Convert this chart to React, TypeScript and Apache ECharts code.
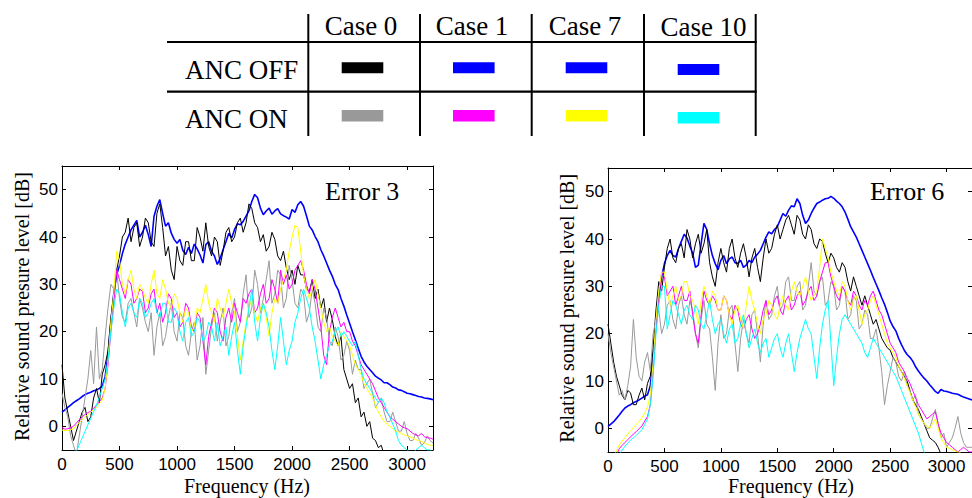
import React, { useEffect, useRef } from "react";
import * as echarts from "echarts";

const FREQ = [
  0, 25, 50, 75, 100, 125, 150, 175, 200, 225,
  250, 275, 300, 325, 350, 375, 400, 425, 450, 475,
  500, 525, 550, 575, 600, 625, 650, 675, 700, 725,
  750, 775, 800, 825, 850, 875, 900, 925, 950, 975,
  1000, 1025, 1050, 1075, 1100, 1125, 1150, 1175, 1200, 1225,
  1250, 1275, 1300, 1325, 1350, 1375, 1400, 1425, 1450, 1475,
  1500, 1525, 1550, 1575, 1600, 1625, 1650, 1675, 1700, 1725,
  1750, 1775, 1800, 1825, 1850, 1875, 1900, 1925, 1950, 1975,
  2000, 2025, 2050, 2075, 2100, 2125, 2150, 2175, 2200, 2225,
  2250, 2275, 2300, 2325, 2350, 2375, 2400, 2425, 2450, 2475,
  2500, 2525, 2550, 2575, 2600, 2625, 2650, 2675, 2700, 2725,
  2750, 2775, 2800, 2825, 2850, 2875, 2900, 2925, 2950, 2975,
  3000, 3025, 3050, 3075, 3100, 3125, 3150, 3175,
  3200, 3225,
];
const X_TICKS = [0, 500, 1000, 1500, 2000, 2500, 3000];
const Y_TICKS = [0, 10, 20, 30, 40, 50];
const PANEL_TITLES = ["Error 3", "Error 6"];
const CASES = ["Case 0", "Case 1", "Case 7", "Case 10"];
const ROWS = ["ANC OFF", "ANC ON"];
const OFF_COLORS = ["#000000", "#0000ff", "#0000ff", "#0000ff"];
const ON_COLORS = ["#999999", "#ff00ff", "#ffff00", "#00ffff"];

// ---------- Error 3 panel ----------
const E3_BLUE = [
  3.0, 3.5, 4.0, 4.5, 5.0, 5.4, 5.8, 6.3, 6.7, 7.0,
  7.2, 7.5, 7.7, 8.0, 8.5, 10.5, 15, 22, 28, 32,
  34, 36.5, 38.5, 40, 41.5, 42.5, 43.5, 40, 41, 42.5,
  40.5, 38, 44.4, 46.5, 47.9, 45, 42.3, 43, 40.8, 39.5,
  38.7, 39.5, 37.2, 36.3, 37.8, 36.5, 38.5, 37.5, 36.2, 34.5,
  38.4, 39, 37, 36, 34.2, 35.5, 37.3, 39, 40.8, 39.8,
  41.6, 42.8, 42.6, 43.3, 44.4, 45.5, 47.5, 49, 48.3, 46.1,
  44.7, 45.5, 46.1, 44.8, 45.5, 46, 44.9, 44.5, 44.2, 43.8,
  45.8, 45.2, 46.8, 47.5, 46.5, 44.5, 42.3, 41.5, 40.1, 39,
  37.3, 36, 34.5, 33, 31.7, 30, 28.9, 27, 25.4, 23.5,
  21.8, 20, 18.3, 16.5, 14.8, 13.6, 12.7, 12, 11.3, 10.6,
  10.2, 9.8, 9.2, 9.2, 8.8, 8.3, 8.1, 7.7, 7.6, 7.3,
  7.0, 6.9, 6.7, 6.5, 6.3, 6.2, 6.0, 5.9,
  5.8, 5.6,
];
const E3_BLACK = [
  13, 6, 3, 0, -3, -1, 1, 3, 4, 1,
  2, 6, 8, 5, 11, 13, 16, 23, 28, 33,
  36, 40, 41, 44, 39, 42, 43, 38, 40, 44,
  43, 39, 38, 45, 47, 42, 36, 38, 33, 31,
  38, 35, 34, 39, 39, 35, 35, 42, 40, 37,
  43, 38, 36, 40, 39, 34, 37, 41, 42, 39,
  40, 43, 44, 41, 43, 47, 46, 43, 42, 39,
  40.5, 37, 38, 41, 39.5, 36, 35, 37, 33.5, 31,
  33, 30, 34, 32, 32, 29, 28.5, 31, 27, 29,
  25, 27, 22, 25, 22.5, 19, 17, 19, 12, 10,
  8, 9, 5, 6, 2, 3, 0, 1, -2.5, -3,
  -4.5, -4, -6, -7, -7, -8, -8, -8, -8, -9,
  -9, -9, -9, -9, -9, -9, -9, -9,
  -9, -9,
];
const E3_GRAY = [
  7, 4, 2, -2, -4, -6, -2, 2, 6, 10,
  16, 9, 21, 10, 12, 19, 25, 30, 29, 33,
  27, 23, 22, 26, 27, 24, 21, 27, 25, 22,
  20, 24, 15, 21, 24, 17, 19, 23, 26, 20,
  18, 24, 23, 17, 15, 20, 22, 14, 17, 23,
  11, 16, 21, 24, 18, 22, 25, 17, 19, 24,
  27, 20, 22, 28, 32, 23, 25, 33, 30, 24,
  27, 31, 35, 26, 28, 33, 32, 25, 27, 34,
  31, 26, 25, 29, 28, 22, 24, 29, 26, 21,
  20, 25, 23, 18, 17, 21, 19, 14, 15, 18,
  16, 11, 14, 12, 12, 8, 9, 10, 7, 4,
  5, 6, 3, 1, 1, 3, 1, -1, -1, 1,
  -1.5, -3, -3, -1.5, -2.5, -4, -3.5, -2,
  -3, -3.5,
];
const E3_MAGENTA = [
  -0.3, -0.6, -0.5, -0.3, 0, 0.7, 1.4, 2, 2.5, 2.9,
  3.2, 3.8, 4.5, 5.2, 6, 8, 13, 20, 26, 33,
  31, 29, 27, 31, 30, 26, 27, 29, 28.5, 24,
  25, 28, 29, 24, 26, 22, 24, 28, 27, 23,
  24, 21, 22, 26, 25, 21, 20, 24, 23, 18,
  13, 19, 22, 25, 24, 20, 18, 23, 25, 22,
  26, 24, 22, 27, 26, 28, 29, 24, 25, 28,
  30, 26, 27, 31, 29, 26, 33, 30, 32, 29,
  30, 33, 34, 35, 33, 30, 28, 31, 29, 25,
  21, 15, 13, 20, 23, 25, 23, 21, 22, 20,
  20, 18, 17, 15, 13, 12, 11, 10, 9, 7.5,
  6, 5, 4, 3, 2, 1.5, 1, 0.5, 0, -0.3,
  -0.5, -1, -1.5, -1.8, -2, -1.5, -2.2, -2.4,
  -2.5, -2.7,
];
const E3_YELLOW = [
  -0.8, -0.9, -0.9, -0.7, -0.5, 0.2, 0.8, 1.4, 2, 2.5,
  3, 3.5, 4, 4.8, 5.5, 8, 14, 22, 28, 37,
  35, 30, 28, 31, 33, 29, 27, 30, 29, 27,
  26, 30, 33, 28, 27, 31, 29, 26, 25, 28,
  27, 24, 22, 25, 24, 20, 21, 25, 24, 27,
  30, 26, 24, 22, 27, 25, 23, 26, 29, 26,
  24, 19, 14, 18, 22, 25, 27, 24, 22, 25,
  26, 23, 19, 24, 27, 26, 29, 31, 33, 37,
  40, 42.5, 42, 37, 32, 29, 27, 29, 31, 28,
  25, 22, 20, 21, 19, 18, 17, 20, 19, 18,
  17, 15, 13, 12, 11, 9, 8, 7, 6, 4.5,
  3, 2, 1, 0.5, 0, -0.5, -1, -1.2, -1.5, -1.8,
  -2, -2.2, -2.5, -2.8, -3, -3.2, -3.5, -3.8,
  -4, -4,
];
const E3_CYAN = [
  -11, -9.8, -8.5, -7.5, -6.5, -5.2, -3.9, -2.5, -1.1, 0.3,
  1.7, 3.1, 4.5, 6.2, 8, 10, 14, 20, 25, 29,
  28, 24, 21, 25, 26, 24, 23, 27, 26, 23,
  24, 26, 27, 24, 23, 26, 26, 22, 22, 25,
  24, 20, 18, 22, 23, 19, 20, 23, 22, 18,
  19, 22, 21, 18, 22, 17, 19, 21, 15, 19,
  22, 16, 11, 17, 21, 25, 29, 22, 18, 23,
  26, 24, 21, 16, 12, 17, 23, 18, 13, 16,
  18, 22, 24, 27, 29, 27, 25, 21, 18, 14,
  10, 13, 15, 17, 18, 20, 21, 19, 20, 19,
  18, 17, 18, 15, 12, 10, 9, 8, 7, 6,
  5, 6, 5, 3, 2, 0.5, -1, -3, -4, -4.5,
  -5, -5.5, -6, -5, -4.5, -4, -4.5, -5,
  -5, -5.5,
];

// ---------- Error 6 panel ----------
const E6_BLUE = [
  0.4, 0.9, 1.4, 2.1, 2.8, 3.6, 4.3, 4.7, 5, 5.4,
  5.7, 6.0, 6.4, 6.8, 7.1, 9, 15, 22, 27.7, 32,
  34.8, 36.5, 37.6, 36.5, 36.2, 38, 39.5, 41, 40.2, 38.5,
  37, 34, 34.5, 39, 43.3, 42, 39, 36.5, 34.8, 33.5,
  35.5, 36.5, 34.8, 35.8, 36.2, 35, 34.8, 35.5, 34, 34.5,
  35.5, 35, 36.2, 36.8, 37.6, 39, 40.4, 41.5, 41.1, 42,
  42.6, 44, 45.4, 44.8, 46.1, 47, 46.8, 48.5, 47.5, 45,
  43.3, 44, 45.4, 46.5, 47.5, 47.8, 48.2, 48.5, 48.6, 49,
  48.6, 48, 47.5, 46.8, 45.7, 44.2, 42.6, 41.5, 40.4, 39,
  37.6, 36.2, 34.8, 33.4, 31.9, 30.5, 29.1, 27.6, 26.2, 24.5,
  22.7, 21.5, 20.6, 19, 17.7, 16.5, 15.6, 15, 14.2, 13,
  12.1, 11.3, 10.6, 10, 9.2, 8.5, 7.8, 7.4, 8.2, 7.9,
  7.8, 7.6, 7.4, 7.3, 7.2, 6.9, 6.6, 6.4,
  6.2, 6,
];
const E6_BLACK = [
  22, 18, 14, 11, 9, 7, 6, 8, 7.5, 5,
  5, 7, 8.5, 6, 9.5, 11, 17, 25, 31, 29,
  34, 38, 40, 36, 35, 38, 39, 36, 42, 40,
  36, 39, 41, 37, 39, 42, 35, 32, 30, 35,
  38, 35, 33, 38, 40, 36, 34, 37, 39, 36,
  32, 36, 38, 34, 31, 36, 40, 37, 38, 41,
  43, 40, 42, 44, 45, 43, 41, 45, 44, 41,
  40, 43, 42, 39, 38, 40, 39.5, 37, 35, 37,
  36, 34, 33, 35, 34, 31, 29, 32, 30, 28,
  26, 28, 26, 24, 22, 23, 21, 19, 18, 17,
  16.5, 15, 14, 13, 12, 11, 10, 8, 6, 5,
  4, 2.5, 1, -0.5, -2, -2.5, -3, -4, -5.5, -6,
  -7, -8, -8, -8, -8, -8, -8, -8,
  -8, -8,
];
const E6_GRAY = [
  20, 16, 13, 10, 7, 8, 6, 9, 13, 23,
  15, 11, 10, 14, 16, 12, 20, 23, 25, 20,
  22, 26, 27, 23, 21, 26, 28, 24, 22, 27,
  25, 20, 17, 23, 27, 22, 21, 15, 8, 18,
  24, 19, 20, 25, 26, 18, 12, 19, 23, 20,
  18, 24, 25, 20, 14, 22, 27, 23, 24, 28,
  30, 25, 26, 31, 32, 27, 27, 30, 31, 25,
  26, 30, 35, 29, 28, 31, 32, 26, 27, 31,
  30, 25, 26, 30, 29, 23, 24, 28, 27, 21,
  22, 25, 24, 19, 19, 21, 17, 12, 5, 9,
  12, 15, 14, 11, 10, 12, 9, 8, 6, 7,
  3, 2, 1, 0, 0, 2, 4, 1, -2, -1,
  -4, -3, -2, 0, 2.5, -1, -3, -4,
  -4, -4,
];
const E6_MAGENTA = [
  -10, -8.5, -7, -5.6, -4.3, -3.6, -3, -2.4, -1.8, -1.2,
  -0.7, -0.1, 0.5, 1.5, 2.5, 5, 12, 21, 27, 33,
  32, 28, 29, 30, 26, 28, 30, 27, 27, 29,
  24, 20, 18, 24, 29, 27, 26, 28, 27, 25,
  25, 28, 27, 24, 23, 26, 25, 22, 21, 23,
  24, 21, 19, 20, 22, 25, 27, 24, 25, 27,
  28, 25, 24, 27, 28, 25, 26, 28, 29, 26,
  27, 29, 30, 27, 28, 31, 33, 35, 35, 32,
  30, 28, 27, 30, 29, 27, 26, 29, 28, 26,
  25, 27, 26, 28, 29, 27, 25, 24, 22, 20,
  18, 17, 16, 14, 13, 12, 10.6, 9.5, 8, 6.5,
  5, 4, 3, 2, 2.5, 3, 3.5, 1, -1, -2,
  -3, -3.5, -4, -4.5, -5, -4.5, -4, -4.5,
  -5, -5,
];
const E6_YELLOW = [
  -8, -7, -6, -4.7, -3.5, -2.7, -2, -1.2, -0.5, 0.1,
  0.8, 1.5, 2.2, 3.2, 4.5, 7, 14, 23, 29, 33,
  33, 29, 26, 28, 30, 27, 28, 31, 31, 28,
  27, 25, 22, 27, 30, 28, 26, 29, 28, 25,
  25, 28, 27, 24, 22, 25, 26, 23, 21, 26,
  30, 27, 25, 22, 20, 23, 24, 27, 26, 24,
  23, 26, 28, 26, 25, 29, 31, 29, 28, 30,
  32, 29, 27, 28, 29, 34, 40, 38, 36, 33,
  31, 29, 28, 31, 30, 27, 25, 27, 28, 25,
  22, 24, 25, 27, 28, 26, 24, 22, 20, 18,
  17, 16, 15, 13, 12, 10.5, 9, 7.5, 6, 4.5,
  3, 2, 1, 0.5, 0, 1, 2, 0, -2, -3,
  -4, -4.2, -4.5, -4.8, -5, -5.2, -5.5, -5.8,
  -6, -6,
];
const E6_CYAN = [
  -11, -9.5, -8, -6.7, -5.5, -4.6, -3.8, -3.1, -2.5, -2,
  -1.5, -0.9, -0.3, 0.8, 2, 5, 11, 20, 26, 30,
  30, 21, 24, 27, 26, 24, 22, 25, 26, 24,
  23, 26, 25, 22, 21, 24, 27, 23, 20, 22,
  23, 20, 18, 21, 22, 18, 19, 22, 24, 20,
  17, 19, 21, 18, 16, 18, 19, 15, 17, 19,
  20, 17, 15, 18, 20, 16, 12, 16, 19, 21,
  23, 21, 20, 15, 10.5, 17, 22, 25, 27, 18,
  9, 15, 20, 23, 24, 23, 22, 21, 20, 19,
  18, 16, 15, 17, 19, 18, 17, 16, 15, 14,
  13, 12, 11, 9.5, 8, 6.5, 5, 3.5, 2, 0.5,
  -1, -3, -5, -6, -7, -7.5, -8, -8, -8, -8,
  -8, -8, -8, -8, -8, -8, -8, -8,
  -8, -8,
];

const PANEL_DATA = [
  { blue: E3_BLUE, black: E3_BLACK, gray: E3_GRAY, magenta: E3_MAGENTA, yellow: E3_YELLOW, cyan: E3_CYAN },
  { blue: E6_BLUE, black: E6_BLACK, gray: E6_GRAY, magenta: E6_MAGENTA, yellow: E6_YELLOW, cyan: E6_CYAN },
];

const SERIF = '"Liberation Serif", "Times New Roman", serif';
const SANS = '"Liberation Sans", Arial, sans-serif';

export default function App() {
  const ref = useRef<HTMLDivElement>(null);

  useEffect(() => {
    document.body.style.margin = "0";
    if (!ref.current) return;
    const chart = echarts.init(ref.current, undefined, { renderer: "svg" });

    const grids = [
      { left: 62, top: 166, width: 371, height: 284 },
      { left: 608, top: 168, width: 373, height: 284 },
    ];

    const fmt = (v: number) => String(v);
    const xAxes: any[] = [];
    const yAxes: any[] = [];
    const axisLine = { show: true, onZero: false, lineStyle: { color: "#000", width: 1 } };
    grids.forEach((_, gi) => {
      xAxes.push({
        type: "value", gridIndex: gi, position: "bottom", min: 0, max: 3225,
        axisLine,
        axisTick: { show: true, inside: true, length: 4, customValues: X_TICKS, lineStyle: { color: "#000" } },
        axisLabel: { show: true, customValues: X_TICKS, formatter: fmt, fontSize: 17, color: "#000", fontFamily: SANS, margin: 6 },
        splitLine: { show: false },
      });
      xAxes.push({
        type: "value", gridIndex: gi, position: "top", min: 0, max: 3225,
        axisLine,
        axisTick: { show: true, inside: true, length: 4, customValues: X_TICKS, lineStyle: { color: "#000" } },
        axisLabel: { show: false },
        splitLine: { show: false },
      });
      yAxes.push({
        type: "value", gridIndex: gi, position: "left", min: -5, max: 55,
        axisLine,
        axisTick: { show: true, inside: true, length: 4, customValues: Y_TICKS, lineStyle: { color: "#000" } },
        axisLabel: { show: true, customValues: Y_TICKS, formatter: fmt, fontSize: 17, color: "#000", fontFamily: SANS, margin: 4 },
        splitLine: { show: false },
      });
      yAxes.push({
        type: "value", gridIndex: gi, position: "right", min: -5, max: 55,
        axisLine,
        axisTick: { show: true, inside: true, length: 4, customValues: Y_TICKS, lineStyle: { color: "#000" } },
        axisLabel: { show: false },
        splitLine: { show: false },
      });
    });

    const series: any[] = [];
    PANEL_DATA.forEach((p, pi) => {
      const mk = (vals: number[], color: string, width: number, name: string) => ({
        type: "line", name, xAxisIndex: pi * 2, yAxisIndex: pi * 2,
        data: FREQ.map((f, i) => [f, vals[i]]),
        showSymbol: false, symbol: "none", clip: true,
        lineStyle: { color, width }, itemStyle: { color },
      });
      series.push(mk(p.blue, OFF_COLORS[1], 1.6, "ANC OFF"));
      series.push(mk(p.black, OFF_COLORS[0], 1, "Case 0 OFF"));
      series.push(mk(p.gray, ON_COLORS[0], 1, "Case 0 ON"));
      series.push(mk(p.magenta, ON_COLORS[1], 1, "Case 1 ON"));
      series.push(mk(p.yellow, ON_COLORS[2], 1, "Case 7 ON"));
      series.push(mk(p.cyan, ON_COLORS[3], 1, "Case 10 ON"));
    });

    // Legend table
    const g: any[] = [];
    const lineEl = (x1: number, y1: number, x2: number, y2: number, w: number) => ({
      type: "line", shape: { x1, y1, x2, y2 }, style: { stroke: "#000", lineWidth: w },
    });
    const txt = (text: string, x: number, y: number, size: number, align: string, extra: any = {}) => ({
      type: "text", x, y, z: 100, ...extra,
      style: { text, fontFamily: SERIF, fontSize: size, fill: "#000", align, verticalAlign: "middle" },
    });
    [308.3, 420, 531.7, 644, 755.7].forEach((x) => g.push(lineEl(x, 14, x, 136, 2)));
    [42, 91.7].forEach((y) => g.push(lineEl(167, y, 756.7, y, 2.2)));
    const caseX = [361, 472, 585, 703.5];
    CASES.forEach((c, i) => g.push(txt(c, caseX[i], i === 3 ? 26.5 : 25.5, 27, "center")));
    const rowY = [69.8, 118.8];
    ROWS.forEach((r, i) => g.push(txt(r, 185, rowY[i], 27, "left")));
    const swX = [341.7, 453, 565.7, 677.7];
    const offY = [62.3, 62.3, 62.3, 64];
    const onY = [110, 110, 110, 112];
    swX.forEach((x, i) => {
      g.push({ type: "rect", shape: { x, y: offY[i], width: 41.6, height: 11 }, style: { fill: OFF_COLORS[i] } });
      g.push({ type: "rect", shape: { x, y: onY[i], width: 41.6, height: 11.5 }, style: { fill: ON_COLORS[i] } });
    });

    // Axis titles and panel titles
    const xTitleX = [247, 791];
    const yTitleX = [21.5, 567];
    const yTitleY = [306.5, 308.3];
    const panelTitleX = [325, 870];
    [0, 1].forEach((i) => {
      g.push(txt("Frequency (Hz)", xTitleX[i], 486, 20, "center"));
      g.push(txt("Relative sound presure level [dB]", yTitleX[i], yTitleY[i], 20, "center", { rotation: Math.PI / 2 }));
      g.push(txt(PANEL_TITLES[i], panelTitleX[i], 191, 26, "left"));
    });

    chart.setOption({
      animation: false,
      backgroundColor: "#fff",
      grid: grids,
      xAxis: xAxes,
      yAxis: yAxes,
      series,
      graphic: g,
    });

    return () => chart.dispose();
  }, []);

  return <div ref={ref} style={{ width: 972, height: 498 }} />;
}
